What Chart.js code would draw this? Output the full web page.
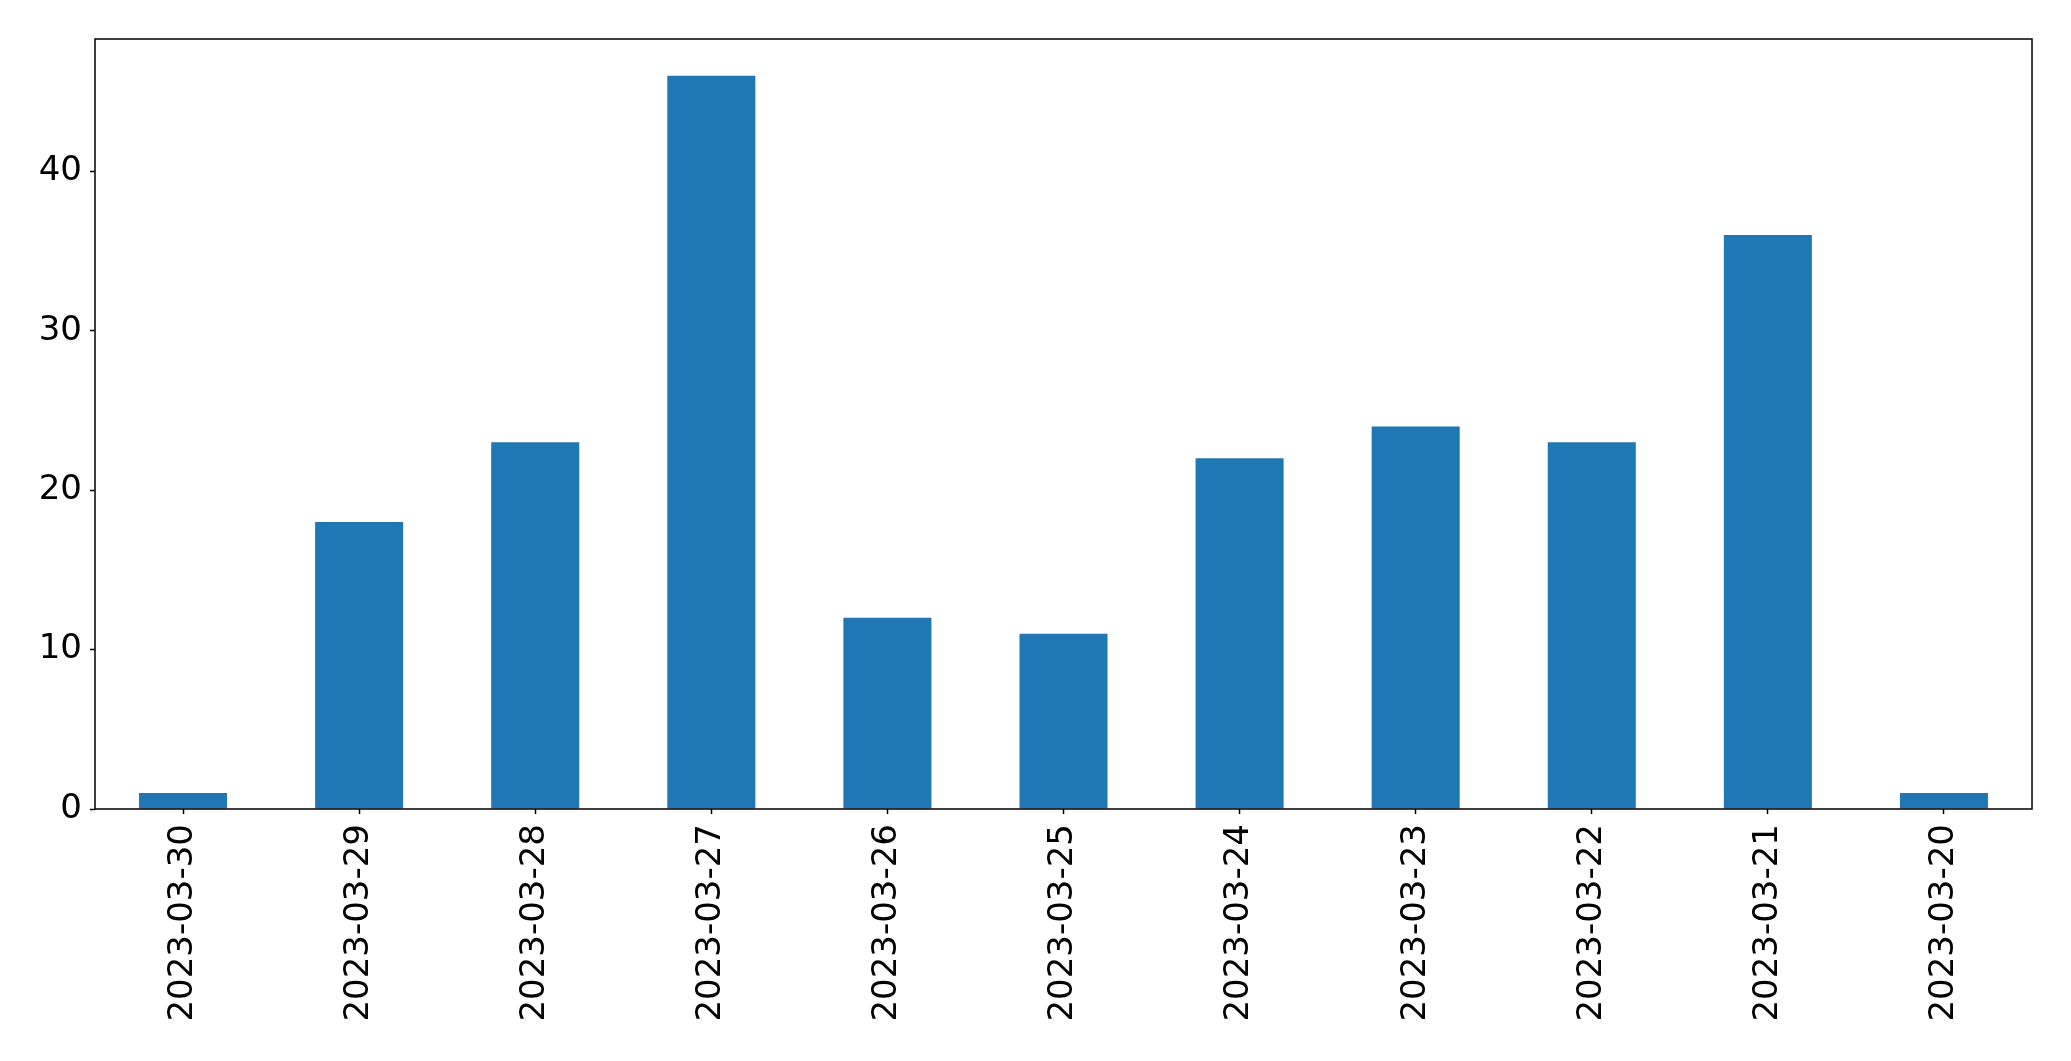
<!DOCTYPE html>
<html>
<head>
<meta charset="utf-8">
<script src="https://cdn.jsdelivr.net/npm/chart.js@4/dist/chart.umd.min.js"></script>
<style>
html,body{margin:0;padding:0;background:#fff;}
#wrap{width:2071px;height:1061px;}
</style>
</head>
<body>
<div id="wrap"><canvas id="c" width="2071" height="1061"></canvas></div>
<script>
const categories = ["2023-03-30","2023-03-29","2023-03-28","2023-03-27","2023-03-26","2023-03-25","2023-03-24","2023-03-23","2023-03-22","2023-03-21","2023-03-20"];
const counts = [1,18,23,46,12,11,22,24,23,36,1];
const yTicks = [0,10,20,30,40];

const frame = {
  id:'frame',
  afterDraw(chart){
    const a = chart.chartArea, ctx = chart.ctx;
    ctx.save();
    ctx.strokeStyle = '#000';
    ctx.lineWidth = 1.5;
    const l = Math.round(a.left), t = Math.round(a.top), r = Math.round(a.right), b = Math.round(a.bottom);
    ctx.strokeRect(l, t, r - l, b - t);
    ctx.restore();
  }
};

new Chart(document.getElementById('c'), {
  type:'bar',
  data:{
    labels: categories,
    datasets:[{
      data: counts,
      backgroundColor:'#1f77b4',
      borderWidth:0,
      barPercentage:0.5,
      categoryPercentage:1.0
    }]
  },
  options:{
    responsive:false,
    animation:false,
    devicePixelRatio:1,
    layout:{padding:{top:39,right:39,left:0,bottom:0}},
    plugins:{legend:{display:false},tooltip:{enabled:false}},
    scales:{
      x:{
        grid:{display:true,drawOnChartArea:false,offset:false,tickLength:5,tickColor:'#000',tickWidth:1.5},
        border:{display:false},
        ticks:{color:'#000',font:{family:'DejaVu Sans',size:34},minRotation:90,maxRotation:90,padding:10,autoSkip:false},
        afterFit(s){ s.height = 252; }
      },
      y:{
        min:0,
        max:48.3,
        grid:{display:true,drawOnChartArea:false,tickLength:5,tickColor:'#000',tickWidth:1.5},
        border:{display:false},
        ticks:{color:'#000',font:{family:'DejaVu Sans',size:34},padding:8,stepSize:10},
        afterBuildTicks(s){ s.ticks = yTicks.map(v=>({value:v})); },
        afterFit(s){ s.width = 95; }
      }
    }
  },
  plugins:[frame]
});
</script>
</body>
</html>
